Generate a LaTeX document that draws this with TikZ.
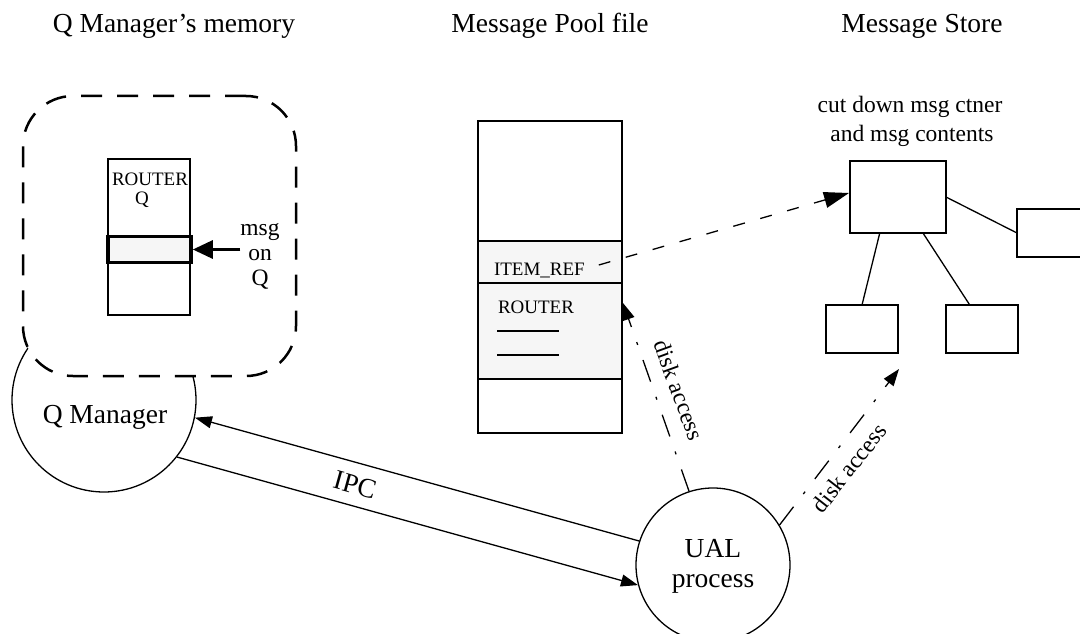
\documentclass[tikz,border=0pt]{standalone}
\usepackage{fontspec}
\setmainfont{Liberation Serif}
\usetikzlibrary{arrows.meta,calc}
\newcommand\fbig{\fontsize{27.5}{32}\selectfont}
\newcommand\fmid{\fontsize{23.5}{27}\selectfont}
\newcommand\fsml{\fontsize{19}{22}\selectfont}
\definecolor{slotgray}{gray}{0.965}
\begin{document}
\begin{tikzpicture}[x=1pt,y=-1pt,
  thinline/.style={line width=1.3pt},
  boxline/.style={line width=2.6pt},
  txt/.style={inner sep=0pt,outer sep=0pt},
  rbox/.style={draw,boxline,inner sep=0pt,outer sep=0pt},
  headA/.style={-{Triangle[length=17pt,width=12pt]}},
  headB/.style={-{Triangle[length=25pt,width=16pt]}},
  dashdotline/.style={thinline,dash pattern=on 23pt off 16pt on 3pt off 16pt},
  dashline/.style={thinline,dash pattern=on 12pt off 16pt},
  memdash/.style={line width=2.5pt,dash pattern=on 21pt off 15pt}]
\useasboundingbox (0,0) rectangle (1080,634);
\clip (0,0) rectangle (1080,634);

% titles
\node[txt,anchor=base] (t1) at (174,33) {\fbig Q Manager’s memory};
\node[txt,anchor=base] (t2) at (550,33) {\fbig Message Pool file};
\node[txt,anchor=base] (t3) at (922,33) {\fbig Message Store};

% Q Manager
\node[draw,circle,thinline,minimum size=184pt,inner sep=0pt] (qmgr) at (104,400) {};
\node[txt,anchor=base] (qmgrlbl) at (105,423) {\fbig Q Manager};

% memory box
\node[draw,memdash,fill=white,rounded corners=50pt,minimum width=273pt,minimum height=280pt,inner sep=0pt] (mem) at (159.5,236) {};

% router queue
\node[rbox,minimum width=82pt,minimum height=156pt] (rq) at (149,237) {};
\node[draw,line width=3.6pt,fill=slotgray,minimum width=83pt,minimum height=26pt,inner sep=0pt] (slot) at (149.5,249.5) {};
\node[txt,anchor=base west] (rqt1) at (112,185) {\fsml ROUTER};
\node[txt,anchor=base west] (rqt2) at (135,204) {\fsml Q};
\node[txt,align=center,font=\fontsize{23.5}{25}\selectfont] (msgq) at (260,256) {msg\\on\\Q};
\draw[line width=3pt,-{Triangle[length=20pt,width=18pt]}] (msgq.west |- slot.east) -- (slot.east);

% message pool file
\fill[slotgray] (478,241) rectangle (622,379);
\node[rbox,minimum width=144pt,minimum height=312pt] (pool) at (550,277) {};
\draw[boxline] (478,241) -- (622,241);
\draw[boxline] (478,283) -- (622,283);
\draw[boxline] (478,379) -- (622,379);
\node[txt,anchor=base west] (itemref) at (494,275) {\fsml ITEM\_REF};
\node[txt,anchor=base west] (router) at (498,313) {\fsml ROUTER};
\draw[line width=2pt] (497,331) -- (559,331);
\draw[line width=2pt] (497,355) -- (559,355);

% message store
\node[txt,anchor=base] (sl1) at (910,113) {\fmid cut down msg ctner};
\node[txt,anchor=base] (sl2) at (912,142) {\fmid and msg contents};
\node[rbox,minimum width=96pt,minimum height=72pt] (main) at (898,197) {};
\node[rbox,minimum width=74pt,minimum height=48pt] (rb) at (1054,233) {};
\node[rbox,minimum width=72pt,minimum height=48pt] (bl) at (862,329) {};
\node[rbox,minimum width=72pt,minimum height=48pt] (br) at (982,329) {};
\draw[thinline] (main.east) -- (rb.west);
\draw[thinline] ($(main.south west)!0.31!(main.south east)$) -- (bl.north);
\draw[thinline] ($(main.south west)!0.76!(main.south east)$) -- ($(br.north west)!0.33!(br.north east)$);

% UAL process
\node[draw,circle,thinline,minimum size=154pt,inner sep=0pt] (ual) at (713,565) {};
\node[txt,align=center,font=\fontsize{27.5}{30}\selectfont] (uallbl) at (713,566) {UAL\\process};

% IPC
\draw[thinline,headA] (ual.162) -- (qmgr.-11.3);
\draw[thinline,headA] (qmgr.-38.5) -- (ual.195.5);
\node[txt,rotate=-15.5] (ipc) at (355,485) {\fbig IPC};

% item ref pointer
\draw[dashline,headB] ([xshift=14pt,yshift=5pt]itemref.east) -- ([xshift=-1pt,yshift=4pt]main.west);

% disk access
\coordinate (diskB) at (899,369);
\draw[dashdotline,headA] (ual.108.2) -- ([xshift=1pt,yshift=-26pt]pool.east);
\node[txt,rotate=-70] (da1) at (679,390) {\fmid disk access};
\draw[dashdotline,headA] (ual.31.5) -- (diskB);
\node[txt,rotate=52] (da2) at (849,468) {\fmid disk access};
\end{tikzpicture}
\end{document}
